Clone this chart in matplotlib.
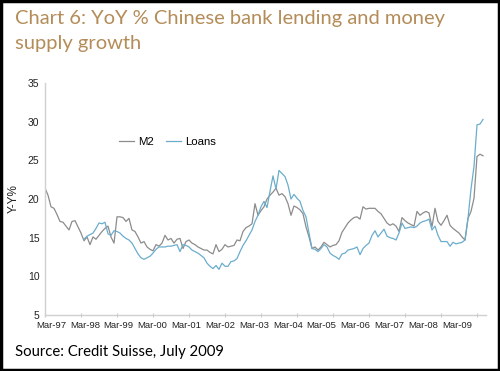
import matplotlib.pyplot as plt
import matplotlib.patches as patches
import numpy as np

# monthly YoY %, first point = Mar-97
m2 = [21.4, 20.5, 19.0, 18.8, 18.0, 17.1, 17.0, 16.5, 16.0, 17.1, 17.2, 16.4,
      15.6, 14.6, 15.1, 14.1, 15.1, 14.8, 15.3, 15.8, 16.2, 16.5, 15.1, 14.3,
      17.7, 17.7, 17.6, 17.1, 17.5, 16.0, 15.8, 15.1, 14.3, 14.5, 13.8, 13.5,
      13.3, 14.1, 13.9, 14.3, 15.3, 14.7, 14.9, 14.3, 14.8, 14.9, 13.6, 14.5,
      14.7, 14.3, 14.1, 13.8, 13.6, 13.4, 13.4, 13.1, 12.9, 14.1, 13.2, 13.5,
      14.1, 13.8, 13.9, 14.0, 14.7, 14.6, 15.8, 16.3, 16.5, 16.8, 19.4, 17.9,
      18.5, 19.0, 20.0, 20.5, 20.9, 21.4, 20.5, 20.7, 20.3, 19.4, 17.9, 19.1,
      18.9, 18.6, 18.1, 16.4, 15.1, 13.6, 13.8, 13.4, 13.8, 14.4, 14.1, 13.8,
      14.0, 14.1, 14.6, 15.7, 16.3, 16.9, 17.3, 17.6, 17.7, 17.4, 19.0, 18.7,
      18.8, 18.8, 18.8, 18.4, 18.1, 17.5, 16.9, 16.6, 16.8, 16.5, 15.8, 17.6,
      17.2, 16.9, 16.7, 16.5, 18.4, 17.9, 18.2, 18.4, 18.2, 16.4, 18.8, 17.1,
      16.6, 17.2, 17.9, 16.6, 16.2, 15.9, 15.6, 15.1, 14.7, 17.5, 18.4, 20.1,
      25.5, 25.8, 25.6]

# loans series starts Apr-98
loans_start = 13
loans = [14.8, 15.2, 15.4, 15.6, 16.2, 16.9, 16.8, 17.0, 15.5, 15.3, 15.9,
         15.8, 15.6, 15.2, 14.9, 14.7, 14.3, 13.6, 12.9, 12.4, 12.2, 12.4, 12.6,
         13.0, 13.5, 13.8, 13.8, 13.8, 13.9, 13.9, 14.0, 14.1, 13.2, 14.1, 14.0,
         13.8, 13.4, 13.2, 13.0, 12.7, 12.4, 11.7, 11.3, 11.0, 11.4, 10.9, 11.7,
         11.3, 11.3, 11.9, 12.0, 12.3, 13.2, 14.0, 14.6, 15.3, 16.0, 17.1, 17.9,
         19.0, 19.7, 18.9, 21.0, 23.0, 21.3, 23.7, 23.3, 22.9, 21.8, 20.0, 20.6,
         20.1, 19.7, 18.5, 17.7, 15.6, 13.6, 13.5, 13.2, 13.6, 14.1, 13.8, 13.0,
         12.7, 12.5, 12.2, 12.9, 13.0, 13.4, 13.5, 13.6, 13.8, 12.8, 13.6, 14.0,
         14.3, 15.3, 15.9, 15.1, 15.6, 16.1, 15.2, 15.0, 14.9, 14.7, 15.6, 16.9,
         16.2, 16.3, 16.4, 16.3, 16.5, 16.9, 17.1, 17.2, 17.4, 16.0, 16.5, 15.3,
         14.5, 14.5, 14.5, 13.9, 14.4, 14.2, 14.3, 14.4, 14.7, 17.5, 21.3, 24.2,
         29.6, 29.7, 30.3]

years = ['97', '98', '99', '00', '01', '02', '03', '04', '05', '06', '07', '08', '09']
tick_labels = ['Mar-' + y for y in years]

gray = '#8c8c8c'
blue = '#6badcc'
title_col = '#b48c58'
axfont = 'Liberation Sans'

fig = plt.figure(figsize=(5, 3.71), dpi=100)
ax = fig.add_axes([0.09, 0.151, 0.882, 0.625])

x_m2 = np.arange(len(m2))
x_loans = np.arange(len(loans)) + loans_start
ax.plot(x_m2, m2, color=gray, lw=0.9, label='M2')
ax.plot(x_loans, loans, color=blue, lw=0.9, label='Loans')

ax.set_xlim(0, 147)
ax.set_ylim(5, 35)
ax.set_yticks(range(5, 36, 5))

# tick marks every March, labels spaced like the original
ax.set_xticks(np.arange(0, 145, 12), minor=True)
ax.set_xticks(np.linspace(2, 137.3, 13))
ax.set_xticklabels(tick_labels, family=axfont, fontsize=6.8, color='#222222')
ax.tick_params(axis='x', which='major', length=0, pad=4)
ax.tick_params(axis='x', which='minor', length=3, direction='inout',
               color='#c8c8c8', width=0.8)
ax.tick_params(axis='y', length=0, pad=4)
for lab in ax.get_yticklabels():
    lab.set_family(axfont)
    lab.set_fontsize(7.5)
    lab.set_color('#222222')

for s in ['top', 'right']:
    ax.spines[s].set_visible(False)
for s in ['left', 'bottom']:
    ax.spines[s].set_color('#d0d0d0')
    ax.spines[s].set_linewidth(1.0)

ax.set_ylabel('Y-Y%', fontsize=8.5, labelpad=6, family=axfont, color='#222222')

ax.legend(loc='center left', bbox_to_anchor=(0.145, 0.746), ncol=2,
          frameon=False, prop={'family': axfont, 'size': 8.2},
          handlelength=1.3, handletextpad=0.4, columnspacing=1.0)

fig.text(0.03, 0.972, 'Chart 6: YoY % Chinese bank lending and money',
         fontsize=14.5, color=title_col, family='Lato', va='top')
fig.text(0.03, 0.907, 'supply growth',
         fontsize=14.5, color=title_col, family='Lato', va='top')
fig.text(0.03, 0.05, 'Source: Credit Suisse, July 2009',
         fontsize=10.7, color='black', family='Lato', va='center')

# black frame round the picture
fig.patches.append(patches.Rectangle((0.002, 0.003), 0.996, 0.994,
                                     transform=fig.transFigure, fill=False,
                                     edgecolor='black', linewidth=2.5))

fig.savefig('out.png', dpi=100)
